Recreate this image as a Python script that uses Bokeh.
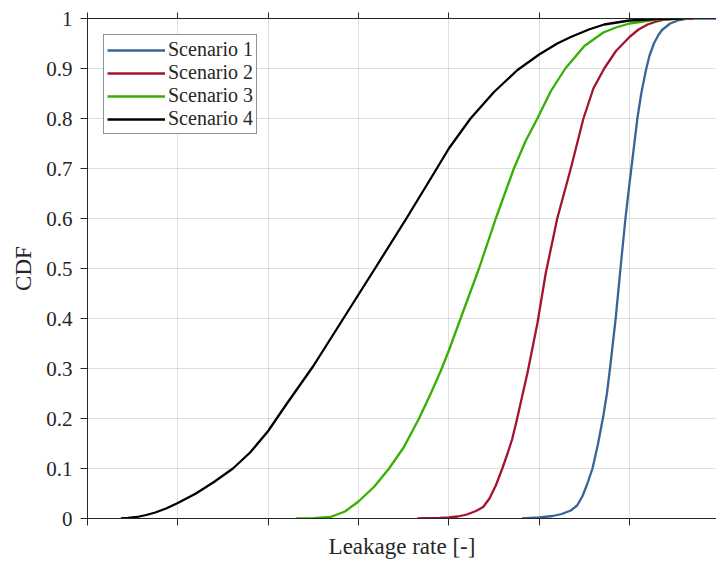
from bokeh.plotting import figure
from bokeh.models import Range1d, FixedTicker, LinearAxis
from bokeh.embed import file_html
from bokeh.resources import INLINE

# ---- data (x in tick units, no tick labels shown) ----
x_ticks = [0, 1, 2, 3, 4, 5, 6]
y_ticks = [0, 0.1, 0.2, 0.3, 0.4, 0.5, 0.6, 0.7, 0.8, 0.9, 1.0]
y_tick_labels = ["0", "0.1", "0.2", "0.3", "0.4", "0.5", "0.6", "0.7", "0.8", "0.9", "1"]

names = ["Scenario 1", "Scenario 2", "Scenario 3", "Scenario 4"]
colors = ["#3A6496", "#A2142F", "#33B000", "#000000"]

s1_x = [4.81, 5.0, 5.15, 5.25, 5.35, 5.42, 5.48, 5.53, 5.59, 5.65, 5.71, 5.75, 5.784,
        5.847, 5.90, 5.955, 6.0, 6.03, 6.087, 6.13, 6.18, 6.22, 6.27, 6.32, 6.36,
        6.45, 6.55, 6.65, 7.0]
s1_y = [0, 0.002, 0.005, 0.009, 0.016, 0.026, 0.045, 0.068, 0.1, 0.148, 0.205, 0.25, 0.3,
        0.4, 0.5, 0.6, 0.67, 0.715, 0.8, 0.85, 0.895, 0.925, 0.95, 0.967, 0.977,
        0.99, 0.997, 1.0, 1.0]

s2_x = [3.65, 3.9, 4.0, 4.1, 4.2, 4.3, 4.38, 4.45, 4.52, 4.592, 4.65, 4.70, 4.75, 4.869,
        4.98, 5.072, 5.2, 5.35, 5.49, 5.6, 5.72, 5.85, 6.0, 6.1, 6.2, 6.3, 6.4, 6.55, 6.71]
s2_y = [0, 0.001, 0.002, 0.004, 0.008, 0.015, 0.023, 0.04, 0.066, 0.1, 0.13, 0.158, 0.195, 0.29,
        0.39, 0.49, 0.6, 0.7, 0.8, 0.86, 0.9, 0.935, 0.963, 0.978, 0.988, 0.994, 0.998, 1.0, 1.0]

s3_x = [2.31, 2.5, 2.69, 2.85, 3.0, 3.17, 3.33, 3.5, 3.67, 3.8, 3.91, 4.0, 4.13, 4.334,
        4.52, 4.72, 4.85, 4.98, 5.13, 5.29, 5.5, 5.71, 5.85, 6.0, 6.3, 6.62]
s3_y = [0, 0.0005, 0.003, 0.014, 0.034, 0.063, 0.098, 0.142, 0.2, 0.25, 0.295, 0.336, 0.4, 0.5,
        0.6, 0.7, 0.755, 0.8, 0.855, 0.9, 0.945, 0.972, 0.982, 0.99, 0.998, 1.0]

s4_x = [0.37, 0.45, 0.55, 0.65, 0.75, 0.87, 1.0, 1.2, 1.4, 1.61, 1.8, 2.0, 2.2, 2.5,
        2.85, 3.2, 3.53, 3.85, 4.0, 4.24, 4.5, 4.76, 5.0, 5.2, 5.35, 5.55, 5.72,
        6.0, 6.3, 6.6]
s4_y = [0, 0.001, 0.003, 0.007, 0.012, 0.02, 0.031, 0.05, 0.073, 0.1, 0.132, 0.175, 0.228, 0.305,
        0.405, 0.505, 0.6, 0.695, 0.74, 0.8, 0.853, 0.897, 0.928, 0.95, 0.963, 0.978, 0.988,
        0.996, 0.999, 1.0]

series_x = [s1_x, s2_x, s3_x, s4_x]
series_y = [s1_y, s2_y, s3_y, s4_y]

x_label = "Leakage rate [-]"
y_label = "CDF"

# ---- styling ----
FONT = "Liberation Serif"
AX = "#262626"

p = figure(width=716, height=563, output_backend="svg", toolbar_location=None,
           x_range=Range1d(0, 6.963), y_range=Range1d(0, 1),
           min_border_left=87, min_border_right=0, min_border_top=18, min_border_bottom=45)
p.outline_line_color = None
p.background_fill_color = "white"
p.border_fill_color = "white"

for xs, ys, nm, c in zip(series_x, series_y, names, colors):
    p.line(xs, ys, line_color=c, line_width=2.3, legend_label=nm, line_join="round")

p.xaxis.ticker = FixedTicker(ticks=x_ticks)
p.yaxis.ticker = FixedTicker(ticks=y_ticks)
p.yaxis.major_label_overrides = {t: l for t, l in zip(y_ticks, y_tick_labels)}

for ax in [p.xaxis[0], p.yaxis[0]]:
    ax.axis_line_color = AX
    ax.axis_line_width = 1
    ax.major_tick_line_color = AX
    ax.major_tick_out = 7
    ax.major_tick_in = 0
    ax.minor_tick_out = 0
    ax.minor_tick_in = 0
    ax.major_label_text_font = FONT
    ax.major_label_text_color = AX
    ax.axis_label_text_font = FONT
    ax.axis_label_text_font_style = "normal"
    ax.axis_label_text_color = AX
    ax.axis_label_text_font_size = "23px"

p.xaxis.major_label_overrides = {t: "" for t in x_ticks}
p.xaxis.major_label_text_font_size = "1px"
p.xaxis.major_label_standoff = 0
p.xaxis.axis_label = x_label
p.xaxis.axis_label_standoff = 8

p.yaxis.major_label_text_font_size = "21px"
p.yaxis.major_label_standoff = 8
p.yaxis.axis_label = y_label
p.yaxis.axis_label_standoff = 7

top = LinearAxis(ticker=FixedTicker(ticks=x_ticks))
top.axis_line_color = AX
top.major_tick_line_color = AX
top.major_tick_out = 6
top.major_tick_in = 0
top.minor_tick_out = 0
top.minor_tick_in = 0
top.major_label_overrides = {t: "" for t in x_ticks}
top.major_label_text_font_size = "1px"
top.major_label_standoff = 0
p.add_layout(top, "above")

p.xgrid.ticker = FixedTicker(ticks=x_ticks)
p.ygrid.ticker = FixedTicker(ticks=y_ticks)
for g in [p.xgrid[0], p.ygrid[0]]:
    g.grid_line_color = AX
    g.grid_line_alpha = 0.15
    g.grid_line_width = 1

lg = p.legend[0]
lg.location = "top_left"
lg.margin = 16
lg.padding = 3
lg.spacing = 0
lg.glyph_width = 58
lg.glyph_height = 20
lg.label_height = 20
lg.label_standoff = 3
lg.label_text_font = FONT
lg.label_text_font_size = "20px"
lg.label_text_color = AX
lg.border_line_color = AX
lg.border_line_width = 1
lg.background_fill_color = "white"
lg.background_fill_alpha = 1.0

open("out.html", "w").write(file_html(p, INLINE))
